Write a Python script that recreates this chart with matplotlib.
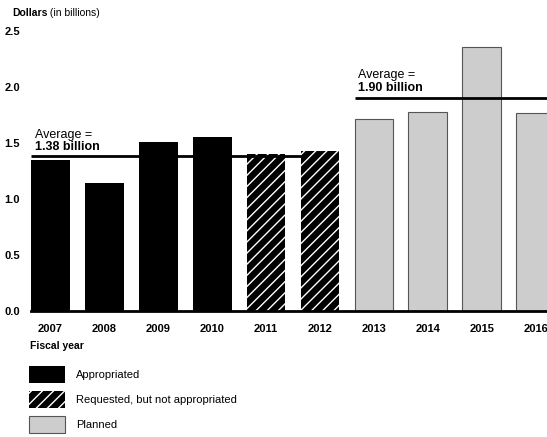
import numpy as np
import matplotlib
matplotlib.use("Agg")
import matplotlib.pyplot as plt
from matplotlib.patches import Patch

plt.rcParams['font.family'] = ['Liberation Sans', 'DejaVu Sans']
plt.rcParams['hatch.linewidth'] = 1.0

years = ['2007', '2008', '2009', '2010', '2011', '2012', '2013', '2014', '2015', '2016']
values = [1.35, 1.14, 1.51, 1.55, 1.40, 1.43, 1.71, 1.78, 2.36, 1.77]
status = ['app', 'app', 'app', 'app', 'req', 'req', 'plan', 'plan', 'plan', 'plan']
avg_early = 1.38
avg_late = 1.90
yticks = [0.0, 0.5, 1.0, 1.5, 2.0, 2.5]

styles = {
    'app': dict(facecolor='black', edgecolor='black', linewidth=0),
    'req': dict(facecolor='black', edgecolor='white', hatch='///', linewidth=0),
    'plan': dict(facecolor='#cdcdcd', edgecolor='#555555', linewidth=0.8),
}

fig = plt.figure(figsize=(5.47, 4.37), dpi=100)
ax = fig.add_axes([31 / 547, 1 - 311 / 437, 1 - 31 / 547, 280 / 437])

x = np.arange(len(years))
for xi, v, s in zip(x, values, status):
    ax.bar(xi, v, width=0.72, zorder=2, **styles[s])

# average lines
ax.hlines(avg_early, -0.36, 4.64, color='black', linewidth=2, zorder=3)
ax.hlines(avg_late, 5.64, 9.3, color='black', linewidth=2, zorder=3)
ax.text(-0.29, 1.575, 'Average =', fontsize=9, va='center', ha='left')
ax.text(-0.29, 1.46, f'{avg_early:.2f} billion', fontsize=9, fontweight='bold', va='center', ha='left')
ax.text(5.71, 2.11, 'Average =', fontsize=9, va='center', ha='left')
ax.text(5.71, 1.995, f'{avg_late:.2f} billion', fontsize=9, fontweight='bold', va='center', ha='left')

ax.set_xlim(-0.36, 9.21)
ax.set_ylim(0, 2.5)
ax.set_xticks(x)
ax.set_xticklabels(years, fontsize=8, fontweight='bold')
ax.set_yticks(yticks)
ax.set_yticklabels([f'{t:.1f}' for t in yticks], fontsize=8, fontweight='bold')
ax.tick_params(axis='both', length=0)
ax.tick_params(axis='x', pad=9)
ax.tick_params(axis='y', pad=8)
for side in ['top', 'right', 'left']:
    ax.spines[side].set_visible(False)
ax.spines['bottom'].set_linewidth(2)
ax.spines['bottom'].set_zorder(4)

t1 = fig.text(12 / 547, 1 - 13 / 437, 'Dollars', fontsize=7.5, fontweight='bold', va='center', ha='left')
ax.annotate(' (in billions)', xy=(1, 0.5), xycoords=t1, fontsize=7.5, va='center', ha='left')
fig.text(30 / 547, 1 - 346 / 437, 'Fiscal year', fontsize=7.5, fontweight='bold', va='center', ha='left')

handles = [Patch(**styles['app']), Patch(**styles['req']), Patch(**styles['plan'])]
labels = ['Appropriated', 'Requested, but not appropriated', 'Planned']
fig.legend(handles, labels, loc='upper left', bbox_to_anchor=(29 / 547, 1 - 366 / 437),
           frameon=False, fontsize=8, borderpad=0, borderaxespad=0,
           handlelength=3.25, handleheight=2.0, handletextpad=1.0, labelspacing=0.7)

fig.savefig('out.png', dpi=100)
